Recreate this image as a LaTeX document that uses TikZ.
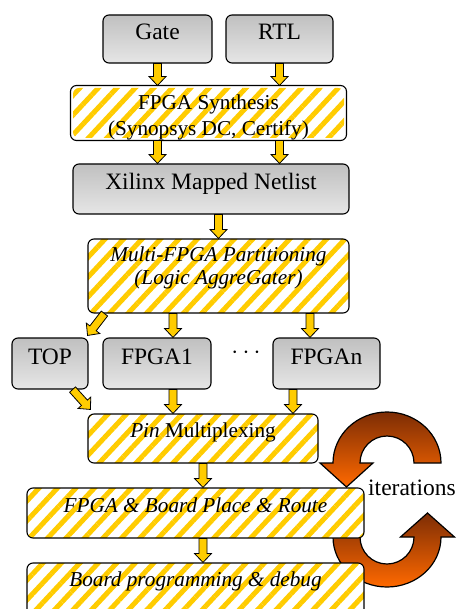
\documentclass[tikz,border=0pt]{standalone}
\usepackage{fontspec}
\setmainfont{Liberation Serif}
\usetikzlibrary{calc,patterns.meta}

\definecolor{stripe}{RGB}{255,204,0}
\definecolor{boxtop}{RGB}{192,192,192}
\definecolor{boxbot}{RGB}{230,230,230}
\definecolor{loopdark}{RGB}{125,45,5}
\definecolor{loopbright}{RGB}{255,105,0}

\tikzset{
  graybox/.style={draw=black, line width=1.1pt, rounded corners=6pt,
    top color=boxtop, bottom color=boxbot, inner sep=0pt,
    font=\fontsize{23.5}{27}\selectfont, text height=25pt, text depth=23pt},
  hatchfill/.style={preaction={fill=white},
    pattern={Lines[angle=47,distance=13.5pt,line width=5pt]}, pattern color=stripe},
  hatchbox/.style={hatchfill, draw=black, line width=1.1pt, rounded corners=6pt,
    inner sep=0pt, font=\fontsize{21.2}{23}\selectfont,
    text height=23.5pt, text depth=25.5pt},
  steptext/.style={inner sep=0pt, anchor=base, align=center},
  loop/.style={draw=black, line width=1.2pt, line join=miter,
    top color=loopdark, bottom color=loopbright},
  blk/.style={draw=black, line width=0.8pt, fill=stripe, line join=miter,
    to path={
      ($(\tikztostart)!4pt!90:(\tikztotarget)$)
      -- ($(\tikztotarget)!9pt!(\tikztostart)!4pt!-90:(\tikztostart)$)
      -- ($(\tikztotarget)!9pt!(\tikztostart)!8.5pt!-90:(\tikztostart)$)
      -- (\tikztotarget)
      -- ($(\tikztotarget)!9pt!(\tikztostart)!8.5pt!90:(\tikztostart)$)
      -- ($(\tikztotarget)!9pt!(\tikztostart)!4pt!90:(\tikztostart)$)
      -- ($(\tikztostart)!4pt!-90:(\tikztotarget)$)
      -- cycle}},
}

\begin{document}
\begin{tikzpicture}[x=1pt,y=-1pt]
\useasboundingbox (0,0) rectangle (458,609);
\clip (0,0) rectangle (458,609);

% iteration loop arrows, behind the flow boxes
\path[loop] (441,463) arc[start angle=0,end angle=180,x radius=54pt,y radius=51pt]
  -- (320,463) -- (346.5,487) -- (373,463) -- (360,463)
  arc[start angle=180,end angle=0,radius=27pt] -- cycle;
\path[loop] (333,537) arc[start angle=180,end angle=360,x radius=54pt,y radius=50pt]
  -- (454.5,537) -- (427.5,513) -- (400.5,537) -- (414,537)
  arc[start angle=0,end angle=-180,radius=27pt] -- cycle;

% sources
\node[graybox, minimum width=109pt, minimum height=48pt] (gate) at (157.5,39) {Gate};
\node[graybox, minimum width=107pt, minimum height=48pt] (rtl) at (279.5,39) {RTL};

% synthesis (second line runs past the box and is cut by it)
\node[hatchfill, rounded corners=6pt, inner sep=0pt, minimum width=271pt, minimum height=50pt] (synth) at (208.5,113) {};
\begin{scope}
  \clip[rounded corners=6pt] (synth.north west) rectangle (synth.south east);
  \node[steptext, font=\fontsize{21.2}{26}\selectfont] (synthtxt) at ($(synth.north)+(0,50.5)$)
    {FPGA Synthesis\\(Synopsys DC, Certify)};
\end{scope}
\draw[line width=1.1pt, rounded corners=6pt] (synth.north west) rectangle (synth.south east);

\node[graybox, minimum width=276pt, minimum height=50pt] (xilinx) at (211,189) {Xilinx Mapped Netlist};

\node[hatchbox, minimum width=261pt, minimum height=74pt] (multi) at (218.5,276) {};
\node[steptext, font=\fontsize{21.2}{23}\selectfont\itshape] (multitxt) at ($(multi.north)+(0,46)$)
  {Multi-FPGA Partitioning\\(Logic AggreGater)};

% partitions
\node[graybox, minimum width=76pt, minimum height=51pt] (top) at (50,363.5) {TOP};
\node[graybox, minimum width=108pt, minimum height=51pt] (fpga1) at (157,363.5) {FPGA1};
\node[graybox, minimum width=107pt, minimum height=51pt] (fpgan) at (326.5,363.5) {FPGAn};
\node[inner sep=0pt, anchor=base, font=\fontsize{23.5}{27}\selectfont] (dots) at (246,358) {$\cdots$};

\node[hatchbox, minimum width=230pt, minimum height=49pt] (pin) at (203,438.5) {\textit{Pin} Multiplexing};
\node[hatchbox, minimum width=337pt, minimum height=50pt, font=\fontsize{21.2}{23}\selectfont\itshape] (place) at (195.5,513)
  {FPGA \& Board Place \& Route};
\node[hatchbox, minimum width=337pt, minimum height=60pt, text depth=36pt, font=\fontsize{21.2}{23}\selectfont\itshape] (board) at (195.5,593)
  {Board programming \& debug};

\node[inner sep=0pt, anchor=base west, font=\fontsize{23.5}{27}\selectfont] (iter) at (368,495) {iterations};

% block arrows between the steps
\path[blk] (gate.south) to (gate.south |- synth.north);
\path[blk] (rtl.south) to (rtl.south |- synth.north);
\path[blk] (gate.south |- synth.south) to (gate.south |- xilinx.north);
\path[blk] (rtl.south |- synth.south) to (rtl.south |- xilinx.north);
\path[blk] (multi.north |- xilinx.south) to (multi.north);
\path[blk] ($(multi.south west)+(17,0)$) to ($(top.north east)+(-1,-2)$);
\path[blk] (173,0 |- multi.south) to (173,0 |- fpga1.north);
\path[blk] (310,0 |- multi.south) to (310,0 |- fpgan.north);
\path[blk] ($(top.south east)+(-16,0)$) to ($(pin.north west)+(3,-4)$);
\path[blk] (173,0 |- fpga1.south) to (173,0 |- pin.north);
\path[blk] (293,0 |- fpgan.south) to (293,0 |- pin.north);
\path[blk] (pin.south) to (pin.south |- place.north);
\path[blk] (pin.south |- place.south) to (pin.south |- board.north);
\end{tikzpicture}
\end{document}
